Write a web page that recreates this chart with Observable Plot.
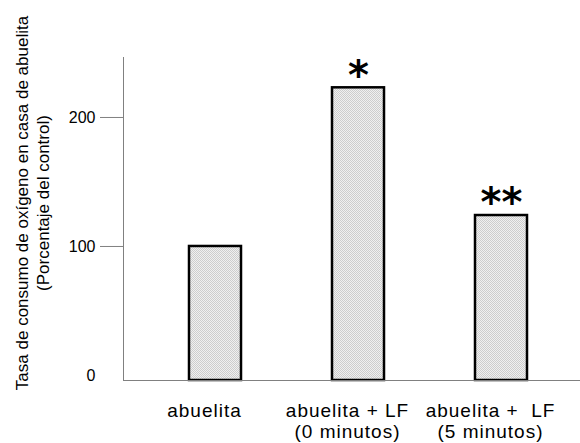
<!DOCTYPE html>
<html><head><meta charset="utf-8">
<script src="https://cdn.jsdelivr.net/npm/d3@7"></script>
<script src="https://cdn.jsdelivr.net/npm/@observablehq/plot@0.6"></script>
<style>
body{margin:0;background:#fff}
svg{font-family:"Liberation Sans",Arial,sans-serif}
g[aria-label="x-axis tick label"] text{letter-spacing:1px}
</style>
</head><body><div id="chart"></div>
<script>
const categories = ["abuelita", "abuelita + LF\n(0 minutos)", "abuelita +  LF\n(5 minutos)"];
const values = [100, 223, 124];
const significance = ["", "*", "**"];
const yTicks = [100, 200];
const yZeroTick = [0];
const yTitle = ["Tasa de consumo de oxígeno en casa de abuelita\n(Porcentaje del control)"];

const data = categories.map((c, i) => ({c, v: values[i], m: significance[i]}));
const yMin = -3.9;

const chart = Plot.plot({
  width: 580, height: 443,
  marginTop: 57, marginBottom: 63, marginLeft: 123, marginRight: 0,
  style: {background: "#fff", color: "#000"},
  x: {domain: categories, range: [143.5, 572.5], paddingInner: 0.636, paddingOuter: 0.318},
  y: {domain: [yMin, 246.5]},
  marks: [
    Plot.barY(data, {x: "c", y1: yMin, y2: "v", fill: "#dedede", stroke: "#000", strokeWidth: 2.5}),
    Plot.frame({anchor: "left", stroke: "#808080", strokeWidth: 1}),
    Plot.ruleY([yMin], {stroke: "#808080", strokeWidth: 1}),
    Plot.axisY({ticks: yTicks, tickSize: 23, tickPadding: 5, stroke: "#808080", fill: "#000", fontSize: 16, label: null}),
    Plot.axisY({ticks: yZeroTick, tickSize: 0, tickPadding: 28, fill: "#000", fontSize: 16, label: null}),
    Plot.axisX({tickSize: 0, tickPadding: 22, fontSize: 19, lineHeight: 1.1, dx: -11, fill: "#000", label: null}),
    Plot.text(data, {x: "c", y: "v", text: "m", fontSize: 40, fontWeight: "bold", fontFamily: "DejaVu Sans", lineAnchor: "middle", dy: -12, fill: "#000"}),
    Plot.text(yTitle, {text: d => d, frameAnchor: "left", textAnchor: "middle", rotate: -90, fontSize: 17, lineHeight: 1.235, lineAnchor: "middle", dx: -92, dy: -16, fill: "#000"})
  ]
});
// fine checkered fill texture like the reference
const svg = d3.select(chart);
const pat = svg.insert("defs", ":first-child").append("pattern")
  .attr("id", "chk").attr("width", 2).attr("height", 2).attr("patternUnits", "userSpaceOnUse");
pat.append("rect").attr("width", 2).attr("height", 2).attr("fill", "#f0f0f0");
pat.append("rect").attr("width", 1).attr("height", 1).attr("fill", "#cdcdcd");
pat.append("rect").attr("x", 1).attr("y", 1).attr("width", 1).attr("height", 1).attr("fill", "#cdcdcd");
svg.selectAll('g[aria-label="bar"] rect').attr("fill", "url(#chk)");
document.getElementById("chart").appendChild(chart);
</script>
</body></html>
